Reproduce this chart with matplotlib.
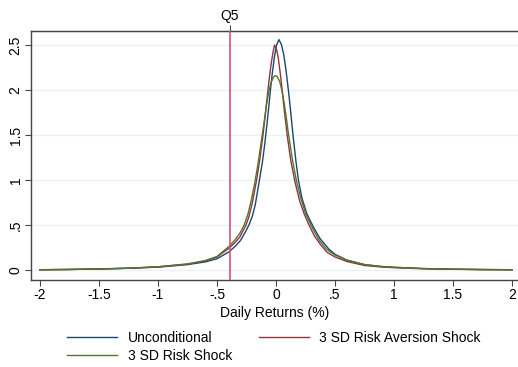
import numpy as np
import matplotlib.pyplot as plt
plt.switch_backend('agg')

plt.rcParams['font.family'] = ['Liberation Sans', 'DejaVu Sans']

# density estimates
x_unc = [-2.0, -1.75, -1.5, -1.25, -1.0, -0.75, -0.6, -0.5, -0.4, -0.34, -0.3, -0.26,
         -0.226, -0.2, -0.175, -0.14, -0.115, -0.095, -0.078, -0.062, -0.047, -0.03,
         -0.012, 0.005, 0.025, 0.045, 0.065, 0.085, 0.105, 0.12, 0.135, 0.15, 0.17,
         0.19, 0.22, 0.26, 0.316, 0.373, 0.45, 0.5, 0.6, 0.75, 0.9, 1.0, 1.25, 1.5,
         1.75, 2.0]
y_unc = [0.003, 0.006, 0.011, 0.019, 0.032, 0.06, 0.09, 0.125, 0.2, 0.27, 0.33, 0.42,
         0.51, 0.6, 0.73, 1.0, 1.2, 1.4, 1.6, 1.8, 2.0, 2.2,
         2.38, 2.5, 2.56, 2.51, 2.4, 2.22, 2.0, 1.82, 1.62, 1.43, 1.2,
         1.0, 0.8, 0.63, 0.48, 0.35, 0.23, 0.175, 0.11, 0.06, 0.038, 0.03, 0.016, 0.009,
         0.005, 0.003]

x_ra = [-2.0, -1.75, -1.5, -1.25, -1.0, -0.75, -0.6, -0.5, -0.4, -0.35, -0.305, -0.254,
        -0.23, -0.2, -0.164, -0.135, -0.11, -0.09, -0.072, -0.055, -0.04, -0.025,
        -0.012, 0.005, 0.02, 0.035, 0.05, 0.07, 0.095, 0.125, 0.161, 0.2, 0.24, 0.28,
        0.325, 0.373, 0.43, 0.5, 0.6, 0.75, 0.9, 1.0, 1.25, 1.5, 1.75, 2.0]
y_ra = [0.003, 0.006, 0.012, 0.02, 0.035, 0.065, 0.1, 0.145, 0.24, 0.3, 0.37, 0.5,
        0.59, 0.75, 1.0, 1.25, 1.5, 1.73, 1.95, 2.15, 2.3, 2.42,
        2.5, 2.45, 2.35, 2.2, 2.03, 1.78, 1.5, 1.22, 0.98, 0.77, 0.62, 0.5,
        0.38, 0.29, 0.2, 0.145, 0.095, 0.05, 0.033, 0.026, 0.014, 0.008, 0.005, 0.003]

x_rs = [-2.0, -1.75, -1.5, -1.25, -1.0, -0.75, -0.6, -0.5, -0.4, -0.35, -0.305, -0.27,
        -0.24, -0.21, -0.178, -0.15, -0.122, -0.1, -0.08, -0.06, -0.04, -0.02,
        -0.005, 0.01, 0.03, 0.05, 0.07, 0.09, 0.105, 0.14, 0.175, 0.21, 0.25, 0.3,
        0.34, 0.373, 0.43, 0.5, 0.6, 0.75, 0.9, 1.0, 1.25, 1.5, 1.75, 2.0]
y_rs = [0.003, 0.006, 0.012, 0.02, 0.036, 0.068, 0.105, 0.15, 0.26, 0.33, 0.41, 0.5,
        0.61, 0.77, 0.98, 1.2, 1.45, 1.65, 1.84, 1.99, 2.09, 2.145,
        2.16, 2.15, 2.1, 2.0, 1.85, 1.67, 1.52, 1.22, 0.98, 0.8, 0.63, 0.49,
        0.39, 0.32, 0.23, 0.167, 0.11, 0.06, 0.038, 0.03, 0.016, 0.009, 0.005, 0.003]

q5 = -0.39
xticks = [-2, -1.5, -1, -0.5, 0, 0.5, 1, 1.5, 2]
xticklabels = ['-2', '-1.5', '-1', '-.5', '0', '.5', '1', '1.5', '2']
yticks = [0, 0.5, 1, 1.5, 2, 2.5]
yticklabels = ['0', '.5', '1', '1.5', '2', '2.5']

fig = plt.figure(figsize=(5.18, 3.67), dpi=100)
ax = fig.add_axes([31 / 518, 1 - 280 / 367, 1 - 31 / 518, (280 - 31) / 367])

ax.set_xlim(-2.076, 2.051)
ax.set_ylim(-0.111, 2.656)
ax.set_yticks(yticks)
ax.set_yticklabels(yticklabels, rotation=90, va='center')
ax.set_xticks(xticks)
ax.set_xticklabels(xticklabels)
ax.grid(axis='y', color='#eaf2f3', lw=1)
ax.set_axisbelow(True)

l1, = ax.plot(x_unc, y_unc, color='#1a476f', lw=1, label='Unconditional')
l2, = ax.plot(x_ra, y_ra, color='#90353b', lw=1, label='3 SD Risk Aversion Shock')
l3, = ax.plot(x_rs, y_rs, color='#55752f', lw=1, label='3 SD Risk Shock')
ax.axvline(q5, color='#d94f73', lw=1.2, zorder=5)

for s in ['left', 'bottom', 'top']:
    ax.spines[s].set_color('#444444')
    ax.spines[s].set_linewidth(1)
ax.spines['right'].set_visible(False)
ax.tick_params(axis='both', labelsize=10, length=4, width=0.8, color='#444444', pad=2)

sec = ax.secondary_xaxis('top')
sec.set_xticks([q5])
sec.set_xticklabels(['Q5'])
sec.tick_params(labelsize=10, length=4, width=0.8, color='#444444', pad=2)
sec.spines['top'].set_color('#444444')

ax.set_xlabel('Daily Returns (%)', fontsize=10, labelpad=3)

fig.legend([l1, l3, l2], [l1.get_label(), l3.get_label(), l2.get_label()],
           ncol=2, frameon=False, fontsize=10, loc='center',
           bbox_to_anchor=(274 / 518, 1 - 347 / 367), borderpad=0,
           handlelength=3.6, columnspacing=1.9, labelspacing=0.3,
           handletextpad=0.75)

plt.savefig('out.png', dpi=100)
plt.close()
